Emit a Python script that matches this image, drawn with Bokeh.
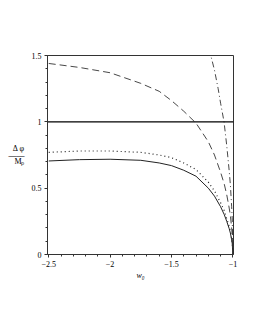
from bokeh.plotting import figure
from bokeh.models import Range1d, FixedTicker
from bokeh.embed import file_html
from bokeh.resources import INLINE

w_grid = [-2.5, -2.25, -2.0, -1.75, -1.6, -1.5, -1.4, -1.3, -1.2, -1.15, -1.1, -1.07, -1.05, -1.03, -1.02, -1.01, -1.005, -1.0]
solid = [0.705, 0.715, 0.718, 0.71, 0.69, 0.67, 0.635, 0.59, 0.50, 0.44, 0.36, 0.30, 0.25, 0.195, 0.16, 0.11, 0.08, 0.0]
dotted = [0.77, 0.78, 0.78, 0.77, 0.75, 0.73, 0.69, 0.64, 0.545, 0.48, 0.39, 0.33, 0.27, 0.21, 0.175, 0.12, 0.085, 0.0]
dashed = [1.44, 1.41, 1.37, 1.29, 1.23, 1.16, 1.08, 0.99, 0.85, 0.75, 0.62, 0.53, 0.45, 0.35, 0.29, 0.20, 0.145, 0.0]
w_dd = [-1.19, -1.18, -1.15, -1.12, -1.1, -1.072, -1.05, -1.03, -1.02, -1.01, -1.005, -1.0]
dashdot = [1.55, 1.5, 1.39, 1.25, 1.14, 1.0, 0.82, 0.63, 0.52, 0.36, 0.26, 0.0]
ref_w = [-2.51, -0.995]
ref_v = [1.0, 1.0]
x_ticks = [-2.5, -2.0, -1.5, -1.0]
y_ticks = [0, 0.5, 1, 1.5]

p = figure(output_backend="svg", toolbar_location=None,
           frame_width=186, frame_height=199,
           min_border_left=47, min_border_right=14, min_border_top=55, min_border_bottom=50,
           x_range=Range1d(-2.51, -0.995), y_range=Range1d(0, 1.5),
           background_fill_color="white", border_fill_color="white")
p.grid.visible = False
p.outline_line_color = "#333333"
p.outline_line_width = 1

p.line(w_grid, solid, line_color="#222222", line_width=1)
p.line(w_grid, dotted, line_color="#222222", line_width=1.2, line_dash="1 3")
p.line(w_grid, dashed, line_color="#333333", line_width=0.9, line_dash="7 4")
p.line(w_dd, dashdot, line_color="#333333", line_width=0.9, line_dash="6 3 1 3")
p.line(ref_w, ref_v, line_color="black", line_width=1.2)

for ax in (p.xaxis[0], p.yaxis[0]):
    ax.axis_line_color = "#333333"
    ax.major_tick_line_color = "#333333"
    ax.minor_tick_line_color = "#333333"
    ax.major_tick_in = 0
    ax.major_tick_out = 3
    ax.minor_tick_in = 0
    ax.minor_tick_out = 2
    ax.major_label_text_font = "Liberation Serif"
    ax.major_label_text_font_size = "8px"
    ax.major_label_text_color = "black"
    ax.axis_label_text_font = "Liberation Serif"
    ax.axis_label_text_color = "black"

p.xaxis[0].ticker = FixedTicker(ticks=x_ticks, minor_ticks=[-2.5 + 0.1 * i for i in range(16)])
p.yaxis[0].ticker = FixedTicker(ticks=y_ticks, minor_ticks=[0.1 * i for i in range(16)])
p.xaxis[0].major_label_standoff = 3
p.yaxis[0].major_label_standoff = 3

p.yaxis[0].axis_label = "Δ φ\n――\nMₚ"
p.yaxis[0].axis_label_orientation = "horizontal"
p.yaxis[0].axis_label_text_font_size = "8px"
p.yaxis[0].axis_label_text_font_style = "normal"
p.yaxis[0].axis_label_text_line_height = 0.75
p.yaxis[0].axis_label_standoff = 4

p.xaxis[0].axis_label = "w₀"
p.xaxis[0].axis_label_text_font_size = "8px"
p.xaxis[0].axis_label_text_font_style = "italic"
p.xaxis[0].axis_label_standoff = 1

open("out.html", "w").write(file_html(p, INLINE))
